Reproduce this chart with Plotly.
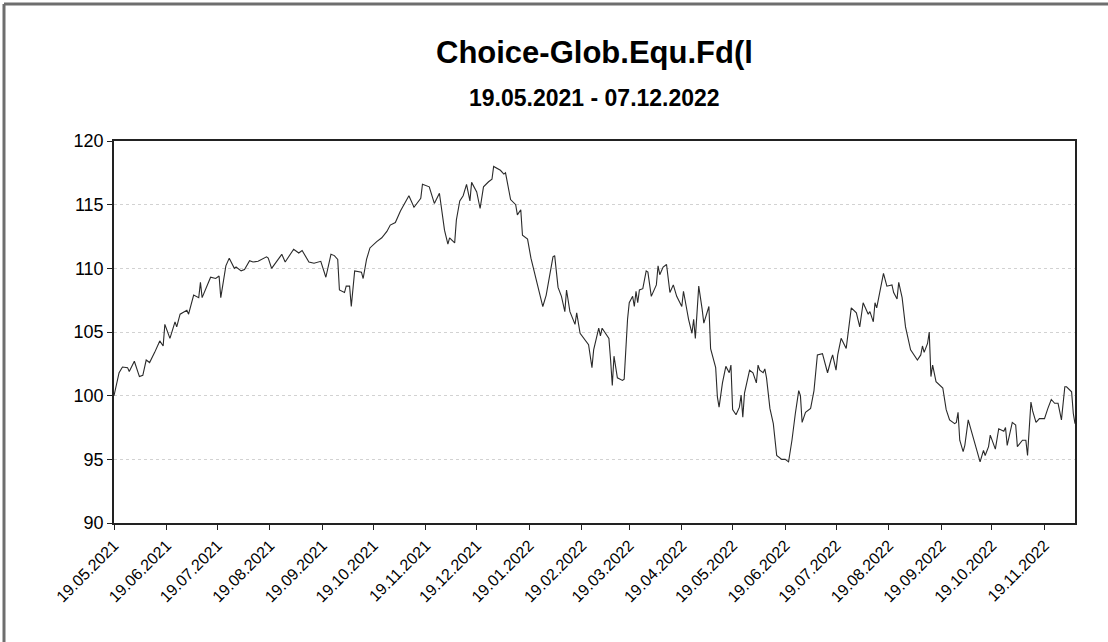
import plotly.graph_objects as go
from datetime import datetime

title_text = "Choice-Glob.Equ.Fd(l"
subtitle_text = "19.05.2021 - 07.12.2022"

dates = [
    "2021-05-19", "2021-05-22", "2021-05-24", "2021-05-27", "2021-05-28", "2021-05-31",
    "2021-06-03", "2021-06-05", "2021-06-07", "2021-06-09", "2021-06-12", "2021-06-15",
    "2021-06-17", "2021-06-18", "2021-06-21", "2021-06-24", "2021-06-25", "2021-06-27",
    "2021-07-01", "2021-07-02", "2021-07-05", "2021-07-08", "2021-07-09", "2021-07-10",
    "2021-07-15", "2021-07-18", "2021-07-20", "2021-07-21", "2021-07-24", "2021-07-26",
    "2021-07-29", "2021-07-30", "2021-08-02", "2021-08-04", "2021-08-07", "2021-08-09",
    "2021-08-12", "2021-08-17", "2021-08-18", "2021-08-20", "2021-08-26", "2021-08-28",
    "2021-09-02", "2021-09-05", "2021-09-07", "2021-09-11", "2021-09-14", "2021-09-18",
    "2021-09-21", "2021-09-24", "2021-09-26", "2021-09-28", "2021-09-29", "2021-10-01",
    "2021-10-02", "2021-10-03", "2021-10-05", "2021-10-06", "2021-10-08", "2021-10-12",
    "2021-10-13", "2021-10-15", "2021-10-17", "2021-10-21", "2021-10-24", "2021-10-27",
    "2021-10-29", "2021-11-01", "2021-11-04", "2021-11-09", "2021-11-12", "2021-11-16",
    "2021-11-17", "2021-11-21", "2021-11-24", "2021-11-27", "2021-11-30", "2021-12-02",
    "2021-12-03", "2021-12-06", "2021-12-07", "2021-12-09", "2021-12-11", "2021-12-13",
    "2021-12-15", "2021-12-16", "2021-12-19", "2021-12-21", "2021-12-23", "2021-12-26",
    "2021-12-28", "2021-12-29", "2022-01-02", "2022-01-04", "2022-01-05", "2022-01-08",
    "2022-01-11", "2022-01-12", "2022-01-14", "2022-01-15", "2022-01-18", "2022-01-20",
    "2022-01-23", "2022-01-27", "2022-01-29", "2022-01-31", "2022-02-02", "2022-02-03",
    "2022-02-05", "2022-02-07", "2022-02-09", "2022-02-10", "2022-02-12", "2022-02-15",
    "2022-02-16", "2022-02-18", "2022-02-21", "2022-02-23", "2022-02-25", "2022-02-26",
    "2022-03-01", "2022-03-02", "2022-03-03", "2022-03-07", "2022-03-08", "2022-03-09",
    "2022-03-10", "2022-03-12", "2022-03-15", "2022-03-16", "2022-03-18", "2022-03-19",
    "2022-03-21", "2022-03-22", "2022-03-23", "2022-03-24", "2022-03-25", "2022-03-27",
    "2022-03-29", "2022-03-30", "2022-04-01", "2022-04-04", "2022-04-05", "2022-04-06",
    "2022-04-08", "2022-04-10", "2022-04-12", "2022-04-14", "2022-04-16", "2022-04-19",
    "2022-04-20", "2022-04-23", "2022-04-25", "2022-04-26", "2022-04-27", "2022-04-29",
    "2022-05-01", "2022-05-02", "2022-05-05", "2022-05-06", "2022-05-09", "2022-05-10",
    "2022-05-11", "2022-05-13", "2022-05-15", "2022-05-17", "2022-05-18", "2022-05-19",
    "2022-05-21", "2022-05-23", "2022-05-24", "2022-05-25", "2022-05-26", "2022-05-29",
    "2022-05-31", "2022-06-02", "2022-06-03", "2022-06-04", "2022-06-06", "2022-06-07",
    "2022-06-08", "2022-06-10", "2022-06-12", "2022-06-14", "2022-06-17", "2022-06-19",
    "2022-06-21", "2022-06-23", "2022-06-25", "2022-06-27", "2022-06-28", "2022-06-29",
    "2022-07-01", "2022-07-04", "2022-07-06", "2022-07-08", "2022-07-11", "2022-07-12",
    "2022-07-14", "2022-07-16", "2022-07-17", "2022-07-19", "2022-07-20", "2022-07-22",
    "2022-07-25", "2022-07-28", "2022-07-31", "2022-08-02", "2022-08-04", "2022-08-07",
    "2022-08-08", "2022-08-10", "2022-08-11", "2022-08-12", "2022-08-14", "2022-08-16",
    "2022-08-18", "2022-08-21", "2022-08-22", "2022-08-24", "2022-08-25", "2022-08-27",
    "2022-08-29", "2022-09-01", "2022-09-05", "2022-09-07", "2022-09-08", "2022-09-09",
    "2022-09-11", "2022-09-12", "2022-09-13", "2022-09-14", "2022-09-16", "2022-09-20",
    "2022-09-22", "2022-09-24", "2022-09-27", "2022-09-28", "2022-09-29", "2022-09-30",
    "2022-10-02", "2022-10-03", "2022-10-05", "2022-10-07", "2022-10-09", "2022-10-10",
    "2022-10-12", "2022-10-14", "2022-10-15", "2022-10-17", "2022-10-18", "2022-10-21",
    "2022-10-23", "2022-10-26", "2022-10-27", "2022-10-28", "2022-10-31", "2022-11-02",
    "2022-11-03", "2022-11-06", "2022-11-08", "2022-11-09", "2022-11-11", "2022-11-12",
    "2022-11-14", "2022-11-16", "2022-11-19", "2022-11-21", "2022-11-23", "2022-11-25",
    "2022-11-27", "2022-11-29", "2022-12-01", "2022-12-02", "2022-12-05", "2022-12-06",
    "2022-12-07",
]

values = [
    100.0, 101.8, 102.25, 102.2, 101.9, 102.7,
    101.5, 101.6, 102.8, 102.6, 103.4, 104.3,
    103.9, 105.6, 104.5, 105.8, 105.4, 106.4,
    106.7, 106.4, 107.9, 107.7, 108.9, 107.7,
    109.3, 109.2, 109.4, 107.7, 110.2, 110.8,
    110.0, 110.1, 109.8, 109.9, 110.6, 110.5,
    110.55, 110.9, 110.8, 110.0, 111.1, 110.5,
    111.5, 111.2, 111.4, 110.5, 110.4, 110.55,
    109.3, 111.1, 111.0, 110.7, 108.3, 108.2,
    108.1, 108.6, 108.6, 107.0, 109.8, 109.7,
    109.2, 110.7, 111.6, 112.1, 112.4, 112.9,
    113.4, 113.6, 114.5, 115.7, 114.8, 115.5,
    116.6, 116.4, 115.1, 115.9, 113.0, 111.9,
    112.4, 112.0, 113.8, 115.3, 115.7, 116.6,
    115.3, 116.75, 116.0, 114.7, 116.4, 116.8,
    117.0, 118.0, 117.7, 117.4, 117.5, 115.4,
    115.0, 114.2, 114.6, 112.6, 112.3, 110.8,
    109.2, 107.0, 107.9, 109.3, 110.9, 111.0,
    108.5, 107.8, 106.6, 108.3, 106.6, 105.6,
    106.5, 104.9, 104.4, 104.0, 102.2, 103.6,
    105.3, 104.7, 105.3, 104.5, 102.8, 100.8,
    103.1, 101.4, 101.2, 101.3, 106.0, 107.3,
    107.8, 107.0, 108.2, 107.3, 108.3, 108.4,
    109.8, 109.7, 107.8, 108.7, 110.2, 109.5,
    110.1, 110.3, 108.1, 108.7, 107.8, 107.0,
    108.2, 106.0, 104.9, 106.0, 104.5, 108.6,
    106.8, 105.7, 107.0, 103.7, 102.2, 99.9,
    99.1, 101.0, 102.3, 101.8, 102.4, 98.9,
    98.5, 99.1, 100.05, 98.3, 100.2, 102.0,
    101.8, 101.0, 102.4, 102.0, 101.8, 102.1,
    101.4, 99.0, 97.8, 95.3, 95.0, 95.0,
    94.8, 96.5, 98.6, 100.4, 100.0, 97.9,
    98.7, 99.0, 100.4, 103.2, 103.3, 102.8,
    101.8, 102.8, 103.2, 102.0, 103.2, 104.5,
    103.7, 106.9, 106.5, 105.4, 107.3, 106.4,
    106.6, 105.8, 107.3, 106.9, 108.2, 109.6,
    108.6, 108.7, 108.1, 107.6, 108.9, 107.7,
    105.4, 103.6, 102.8, 103.2, 103.9, 103.4,
    104.1, 105.0, 101.5, 102.4, 101.1, 100.6,
    98.9, 98.1, 97.8, 97.9, 98.7, 96.5,
    95.6, 96.1, 98.1, 97.2, 96.2, 95.7,
    94.8, 95.7, 95.3, 96.0, 96.9, 95.8,
    97.4, 97.2, 97.5, 96.1, 97.9, 97.7,
    96.0, 96.5, 96.5, 95.3, 99.5, 98.8,
    97.9, 98.2, 98.2, 99.0, 99.7, 99.4,
    99.4, 98.1, 100.7, 100.7, 100.3, 98.6,
    97.8,
]

x_tick_labels = [
    "19.05.2021", "19.06.2021", "19.07.2021", "19.08.2021", "19.09.2021",
    "19.10.2021", "19.11.2021", "19.12.2021", "19.01.2022", "19.02.2022",
    "19.03.2022", "19.04.2022", "19.05.2022", "19.06.2022", "19.07.2022",
    "19.08.2022", "19.09.2022", "19.10.2022", "19.11.2022",
]
y_tick_values = [90, 95, 100, 105, 110, 115, 120]

x_tick_vals = [datetime.strptime(t, "%d.%m.%Y").strftime("%Y-%m-%d") for t in x_tick_labels]

FONT = "Liberation Sans, Arial, sans-serif"

fig = go.Figure()
fig.add_trace(go.Scatter(
    x=dates, y=values, mode="lines",
    line=dict(color="#2a2a2a", width=1.1),
    showlegend=False,
))

# plot area in px: left 114, right 1075, top 141, bottom 523
L, R, T, B = 114, 1075, 141, 523
W, H = 1108, 642

def px(xp):
    return (xp - L) / (R - L)

def py(yp):
    return (B - yp) / (B - T)

fig.update_layout(
    width=W, height=H,
    margin=dict(l=L, r=W - R, t=T, b=H - B),
    paper_bgcolor="white", plot_bgcolor="white",
    font=dict(family=FONT, color="black", size=16),
    annotations=[
        dict(text="<b>" + title_text + "</b>", xref="paper", yref="paper",
             x=0.5, y=py(53), xanchor="center", yanchor="middle",
             showarrow=False, font=dict(size=31, family=FONT)),
        dict(text="<b>" + subtitle_text + "</b>", xref="paper", yref="paper",
             x=0.5, y=py(98), xanchor="center", yanchor="middle",
             showarrow=False, font=dict(size=23, family=FONT)),
    ],
    shapes=[
        dict(type="line", xref="paper", yref="paper",
             x0=px(4), x1=px(1108), y0=py(4), y1=py(4),
             line=dict(color="#6e6e6e", width=3)),
        dict(type="line", xref="paper", yref="paper",
             x0=px(4), x1=px(4), y0=py(4), y1=py(642),
             line=dict(color="#6e6e6e", width=3)),
    ],
)

fig.update_xaxes(
    type="date",
    range=["2021-05-19", "2022-12-07"],
    tickmode="array", tickvals=x_tick_vals, ticktext=x_tick_labels,
    tickangle=-45, tickfont=dict(size=16, family=FONT),
    ticks="outside", ticklen=5, tickcolor="#222",
    showline=True, linecolor="#222", linewidth=1.5, mirror=True,
    showgrid=False, zeroline=False,
)
fig.update_yaxes(
    range=[90, 120], tickvals=y_tick_values,
    tickfont=dict(size=18, family=FONT),
    ticks="outside", ticklen=5, tickcolor="#222",
    showline=True, linecolor="#222", linewidth=1.5, mirror=True,
    showgrid=True, gridcolor="#d2d2d2", gridwidth=1, griddash="dot",
    zeroline=False,
)

fig.write_html("out.html", config={"displayModeBar": False},
               post_script="document.body.style.margin='0';")
